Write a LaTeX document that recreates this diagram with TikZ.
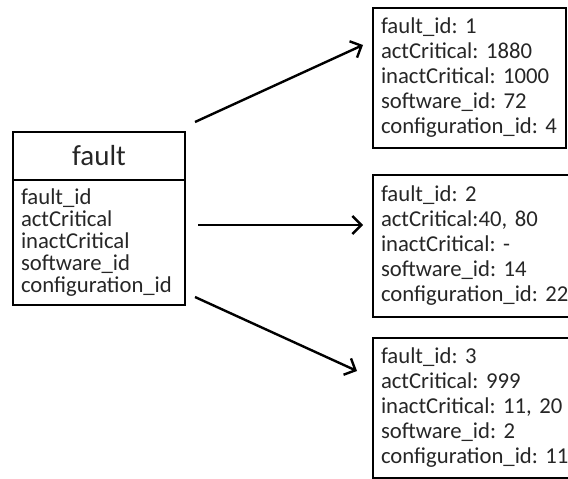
\documentclass[tikz,border=0pt]{standalone}
\usepackage{fontspec}
\setmainfont{Carlito}
\frenchspacing
\usetikzlibrary{arrows.meta}
\usetikzlibrary{positioning}

\begin{document}
\begin{tikzpicture}[x=1pt, y=-1pt,
  box/.style={draw, line width=2.6pt, outer sep=0pt, inner xsep=8pt, inner ysep=0pt, align=left,
    font=\fontsize{22.7}{25}\selectfont, text=black!85},
  link/.style={line width=2.4pt, -{Straight Barb[length=9pt, width=18pt, line width=2.4pt]}}]
  \clip (0,0) rectangle (568,479);

  % the fault table
  \node[box, minimum width=172pt, minimum height=48pt, align=center,
    font=\fontsize{29}{32}\selectfont] (faulthead) at (99,156) {fault};
  \node[box, below=0pt of faulthead, minimum width=172pt, minimum height=125pt,
    text width=156pt, font=\fontsize{22.7}{22}\selectfont] (faultbody)
    {fault\_id\\actCritical\\inactCritical\\software\_id\\configuration\_id};

  % the three rows
  \node[box, anchor=north west, minimum width=193pt, minimum height=140pt, text width=177pt] (fact1) at (373,8)
    {\mbox{fault\_id: 1}\\\mbox{actCritical: 1880}\\\mbox{inactCritical: 1000}\\\mbox{software\_id: 72}\\\mbox{configuration\_id: 4}};
  \node[box, anchor=north west, minimum width=200pt, minimum height=142pt, text width=184pt] (fact2) at (373,175)
    {\mbox{fault\_id: 2}\\\mbox{actCritical:40, 80}\\\mbox{inactCritical: -}\\\mbox{software\_id: 14}\\\mbox{configuration\_id: 22}};
  \node[box, anchor=north west, minimum width=200pt, minimum height=140pt, text width=184pt] (fact3) at (373,338)
    {\mbox{fault\_id: 3}\\\mbox{actCritical: 999}\\\mbox{inactCritical: 11, 20}\\\mbox{software\_id: 2}\\\mbox{configuration\_id: 11}};

  \draw[link] ([xshift=10pt, yshift=10pt]faulthead.north east) -- ([xshift=-10pt, yshift=33pt]fact1.west);
  \draw[link] ([xshift=13pt, yshift=17.5pt]faultbody.east) -- ([xshift=-10pt, yshift=21pt]fact2.west);
  \draw[link] ([xshift=10pt, yshift=8pt]faultbody.south east) -- ([xshift=-16pt, yshift=37pt]fact3.west);
\end{tikzpicture}
\end{document}
